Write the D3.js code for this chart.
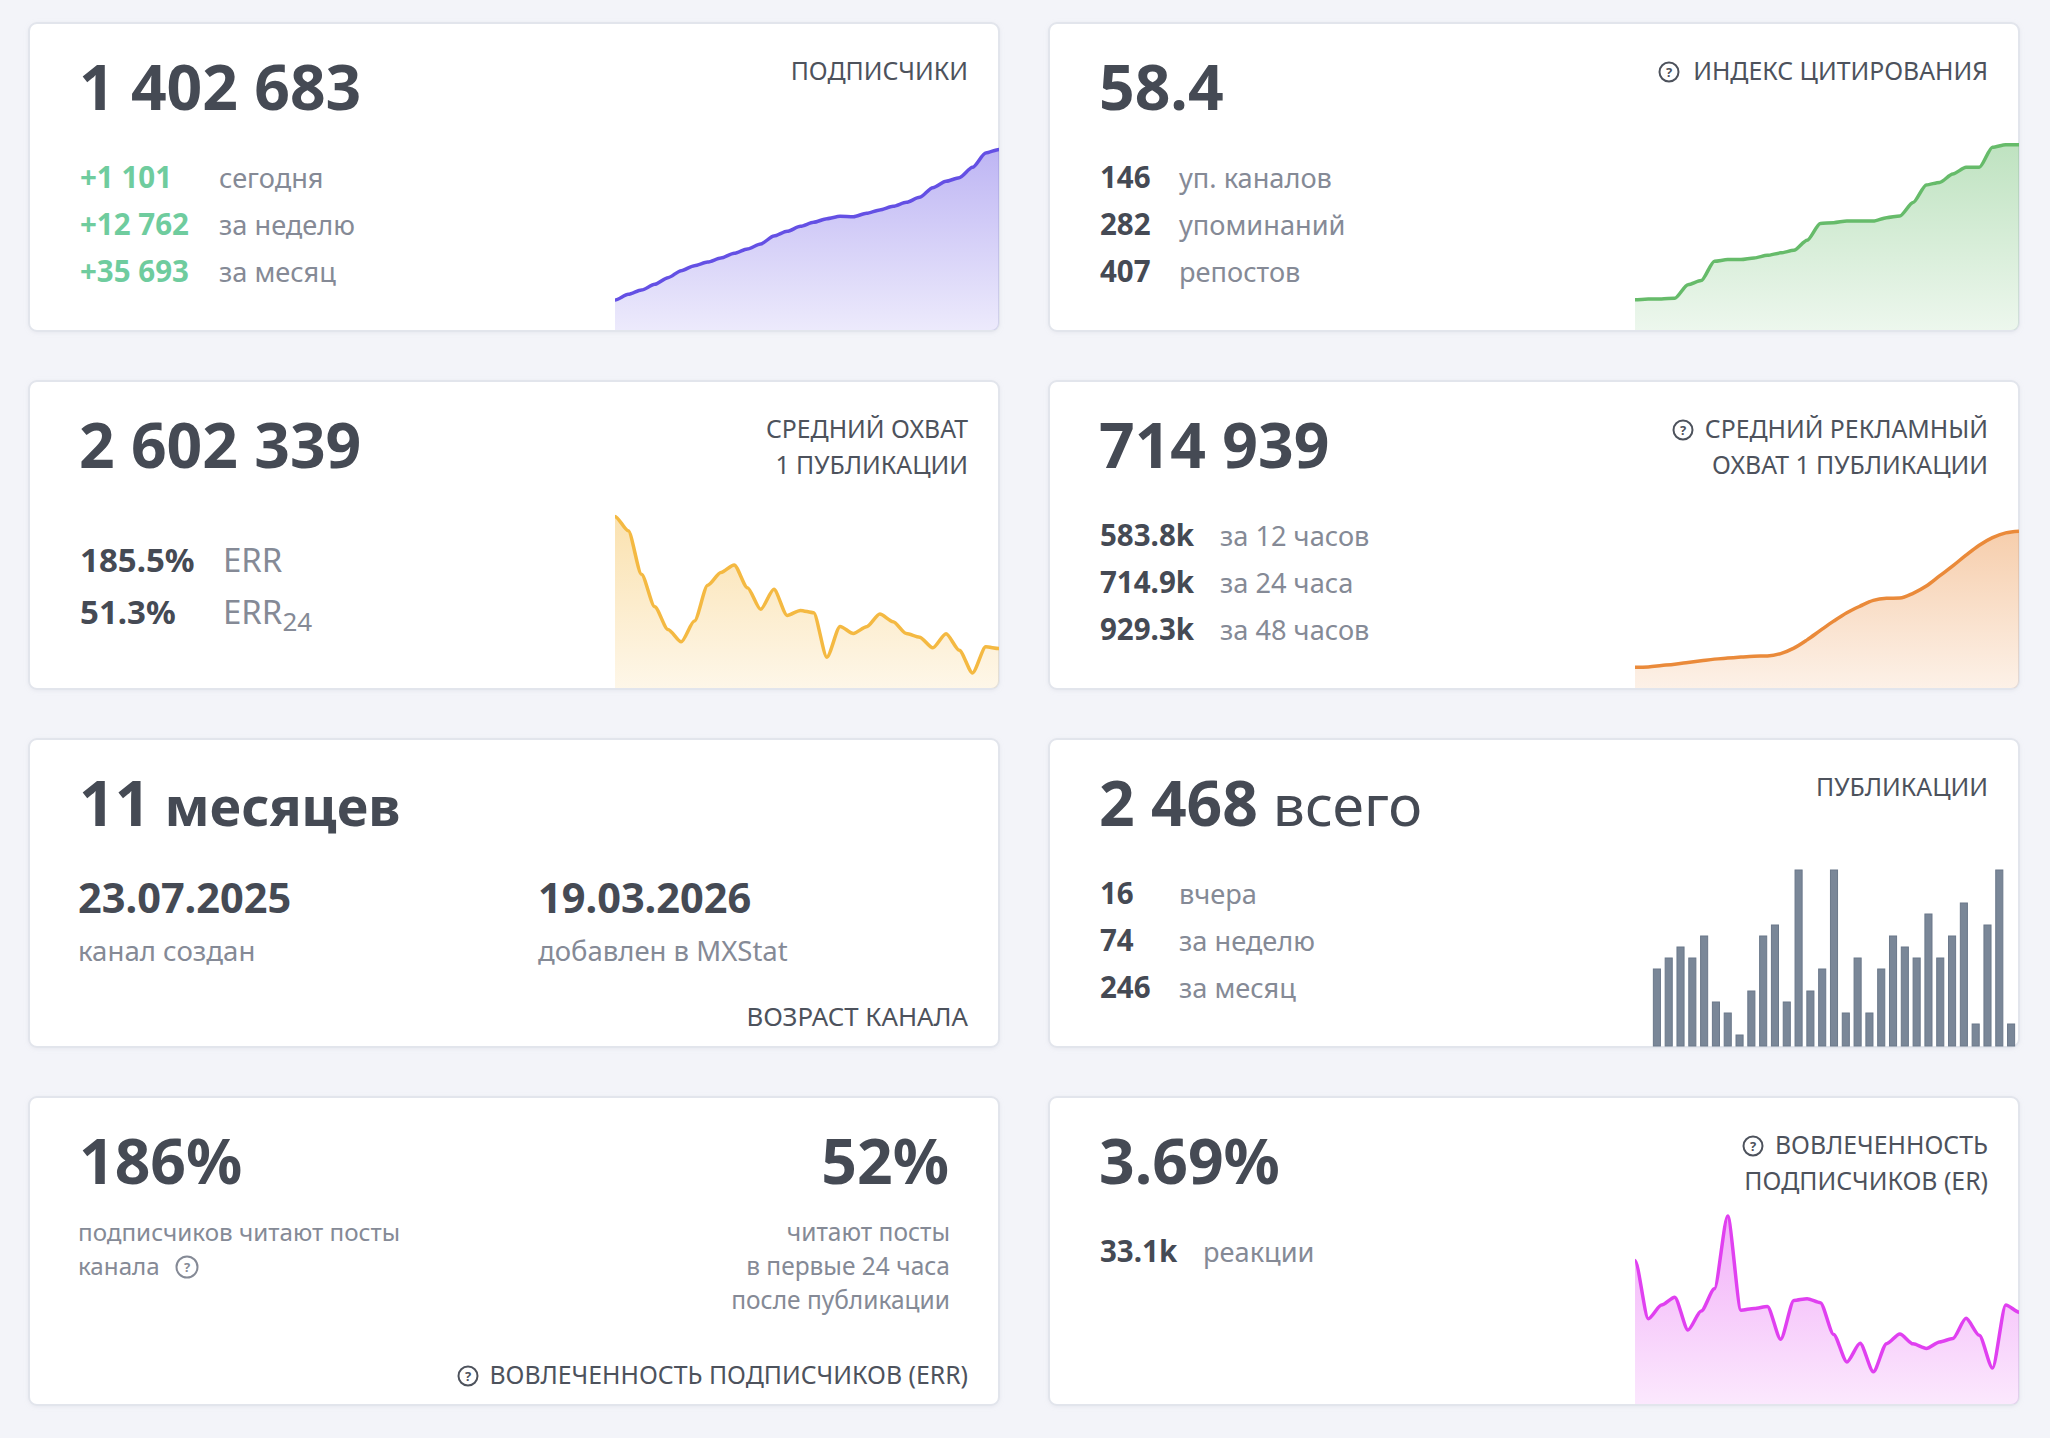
<!DOCTYPE html>
<html>
<head>
    <title></title>
    <meta charset="utf-8">
    <style>
        html, body { margin: 0; padding: 0; background: #f3f4f9; }
        svg { display: block; }
        text { font-family: "Noto Sans", sans-serif; }
    </style>
</head>
<body>
<script src="https://cdn.jsdelivr.net/npm/d3@7"></script>
<script>
    // subscribers per day
    var subscribers = [1366990, 1368333, 1369360, 1370703, 1372283, 1373942, 1375127, 1375996, 1376944, 1378050,
        1379077, 1380262, 1382158, 1383264, 1384449, 1385397, 1386266, 1386819, 1386740, 1387530,
        1388320, 1389189, 1390137, 1391322, 1393613, 1395114, 1395983, 1398432, 1401829, 1402683];
    // citation index per day
    var citation = [39.9, 40.0, 40.0, 40.1, 41.7, 42.2, 44.5, 44.7, 44.7, 44.9,
        45.2, 45.5, 45.8, 47.0, 49.0, 49.1, 49.3, 49.3, 49.3, 49.7,
        49.9, 51.5, 53.6, 53.9, 54.9, 55.7, 55.7, 58.1, 58.4, 58.4];
    // average reach, thousands
    var reach = [5679, 5203, 3764, 2690, 1937, 1528, 2214, 3399, 3819, 4074,
        3321, 2602, 3266, 2402, 2568, 2491, 1018, 2037, 1804, 2026,
        2447, 2192, 1804, 1683, 1328, 1793, 1251, 498, 1362, 1306];
    // ad reach, thousands
    var adReach = [123, 125, 133, 141, 151, 161, 171, 177, 183, 188,
        190, 204, 236, 285, 341, 396, 446, 485, 519, 531,
        533, 561, 604, 664, 723, 787, 846, 891, 919, 929];
    // engagement rate, percent
    var er = [6.52, 3.87, 4.49, 4.85, 3.36, 4.22, 5.23, 8.54, 4.26, 4.34,
        4.43, 2.94, 4.70, 4.78, 4.60, 3.16, 1.91, 2.76, 1.46, 2.74,
        3.18, 2.73, 2.52, 2.82, 2.97, 3.89, 3.12, 1.63, 4.50, 4.17];
    // posts per day
    var posts = [7, 8, 9, 8, 10, 4, 3, 1, 5, 10, 11, 4, 16, 5, 7, 16, 3, 8, 3, 7, 10, 9, 8, 12, 8, 10, 13, 2, 11, 16, 2];

    var cardW = 970, cardH = 308;
    var dark = '#454a54', gray = '#858a96', label = '#4d525c', plus = '#6fcc9e';

    var svg = d3.select('body').append('svg')
        .attr('width', 2050)
        .attr('height', 1438);
    var defs = svg.append('defs');

    defs.append('clipPath').attr('id', 'card-clip').append('rect')
        .attr('width', cardW).attr('height', cardH).attr('rx', 8);
    var blur = defs.append('filter').attr('id', 'card-shadow')
        .attr('x', '-2%').attr('y', '-3%').attr('width', '104%').attr('height', '106%');
    blur.append('feDropShadow').attr('dx', 0).attr('dy', 1).attr('stdDeviation', 2)
        .attr('flood-color', '#aab0c0').attr('flood-opacity', 0.18);

    // almost straight segments with short flat ends, the way the sparklines bend
    function softCurve(context) {
        var x0, y0, started = false;
        return {
            areaStart: function () { this._line = 0; },
            areaEnd: function () { this._line = NaN; },
            lineStart: function () { started = false; },
            lineEnd: function () { if (this._line) context.closePath(); this._line = 1 - this._line; },
            point: function (x, y) {
                x = +x; y = +y;
                if (!started) {
                    started = true;
                    if (this._line) context.lineTo(x, y); else context.moveTo(x, y);
                } else {
                    var k = (x - x0) * 0.25;
                    context.bezierCurveTo(x0 + k, y0, x - k, y, x, y);
                }
                x0 = x; y0 = y;
            }
        };
    }

    function card(col, row) {
        var g = svg.append('g')
            .attr('transform', 'translate(' + (29 + col * 1020) + ',' + (23 + row * 358) + ')');
        g.append('rect')
            .attr('width', cardW).attr('height', cardH).attr('rx', 8)
            .attr('fill', '#fff').attr('stroke', '#e2e5ec').attr('stroke-width', 2)
            .attr('filter', 'url(#card-shadow)');
        return g;
    }

    function txt(g, x, y, s, size, weight, color, anchor) {
        return g.append('text')
            .attr('x', x).attr('y', y)
            .attr('font-size', size).attr('font-weight', weight)
            .attr('fill', color).attr('text-anchor', anchor || 'start')
            .text(s);
    }

    function big(g, s) { return txt(g, 50, 86.5, s, 62.4, 700, dark); }

    // small circled question mark
    function hint(g, cx, cy, color, r) {
        r = r || 9.5;
        g.append('circle').attr('cx', cx).attr('cy', cy).attr('r', r)
            .attr('fill', 'none').attr('stroke', color).attr('stroke-width', 2);
        txt(g, cx, cy + 4.7, '?', 13, 700, color, 'middle');
    }

    function title(g, lines, y0, size) {
        lines.forEach(function (s, i) {
            txt(g, 939, (y0 || 57) + i * 36, s, size || 24.8, 400, label, 'end');
        });
    }

    function stats(g, rows, x0, x1, y0, color) {
        rows.forEach(function (r, i) {
            txt(g, x0, y0 + i * 47, r[0], 29.5, 700, color || dark);
            txt(g, x1, y0 + i * 47, r[1], 27.2, 400, gray);
        });
    }

    function spark(g, id, values, domain, color, curve) {
        var x = d3.scalePoint().domain(d3.range(values.length)).range([586, cardW]);
        var y = d3.scaleLinear().domain(domain).range([cardH - 1, 120]);
        var grad = defs.append('linearGradient').attr('id', id)
            .attr('x1', 0).attr('x2', 0).attr('y1', 0).attr('y2', 1);
        grad.append('stop').attr('offset', 0).attr('stop-color', color).attr('stop-opacity', 0.42);
        grad.append('stop').attr('offset', 1).attr('stop-color', color).attr('stop-opacity', 0.12);

        var area = d3.area().curve(curve || softCurve)
            .x(function (d, i) { return x(i); })
            .y0(y(domain[0]))
            .y1(function (d) { return y(d); });
        var line = d3.line().curve(curve || softCurve)
            .x(function (d, i) { return x(i); })
            .y(function (d) { return y(d); });

        var p = g.append('g').attr('clip-path', 'url(#card-clip)');
        p.append('path').datum(values).attr('d', area).attr('fill', 'url(#' + id + ')');
        p.append('path').datum(values).attr('d', line)
            .attr('fill', 'none').attr('stroke', color).attr('stroke-width', 3.5);
    }

    // row 1
    var c = card(0, 0);
    big(c, '1 402 683');
    title(c, ['ПОДПИСЧИКИ']);
    stats(c, [['+1 101', 'сегодня'], ['+12 762', 'за неделю'], ['+35 693', 'за месяц']], 51, 190, 165, plus);
    spark(c, 'g-subs', subscribers, [1359880, 1404200], '#6450e4');

    c = card(1, 0);
    big(c, '58.4');
    title(c, ['ИНДЕКС ЦИТИРОВАНИЯ']);
    hint(c, 620, 49, label);
    stats(c, [['146', 'уп. каналов'], ['282', 'упоминаний'], ['407', 'репостов']], 51, 130, 165);
    spark(c, 'g-cit', citation, [36.3, 58.6], '#66bb6a');

    // row 2
    c = card(0, 1);
    big(c, '2 602 339');
    title(c, ['СРЕДНИЙ ОХВАТ', '1 ПУБЛИКАЦИИ']);
    txt(c, 51, 190.5, '185.5%', 33, 700, dark);
    txt(c, 51, 242.5, '51.3%', 33, 700, dark);
    txt(c, 194, 190.5, 'ERR', 33, 400, gray);
    var err24 = txt(c, 194, 242.5, 'ERR', 33, 400, gray);
    err24.append('tspan').attr('dy', 7).attr('font-size', 26).text('24');
    spark(c, 'g-reach', reach, [0, 6188], '#f4b942');

    c = card(1, 1);
    big(c, '714 939');
    title(c, ['СРЕДНИЙ РЕКЛАМНЫЙ', 'ОХВАТ 1 ПУБЛИКАЦИИ']);
    hint(c, 634, 49, label);
    stats(c, [['583.8k', 'за 12 часов'], ['714.9k', 'за 24 часа'], ['929.3k', 'за 48 часов']], 51, 171, 165);
    spark(c, 'g-ad', adReach, [0, 1107.6], '#ea8a3a', d3.curveMonotoneX);

    // row 3
    c = card(0, 2);
    var age = big(c, '11');
    age.append('tspan').attr('font-size', 54).text(' месяцев');
    txt(c, 49, 174, '23.07.2025', 41.5, 700, dark);
    txt(c, 49, 222, 'канал создан', 27.6, 400, gray);
    txt(c, 509, 174, '19.03.2026', 41.5, 700, dark);
    txt(c, 509, 222, 'добавлен в MXStat', 27.5, 400, gray);
    title(c, ['ВОЗРАСТ КАНАЛА'], 287, 25.8);

    c = card(1, 2);
    var head = big(c, '2 468');
    head.append('tspan').attr('font-weight', 400).attr('font-size', 57).text(' всего');
    title(c, ['ПУБЛИКАЦИИ']);
    stats(c, [['16', 'вчера'], ['74', 'за неделю'], ['246', 'за месяц']], 51, 130, 165);
    var bx = d3.scaleBand().domain(d3.range(posts.length)).range([602, 968]).paddingInner(0.4).paddingOuter(0.2);
    var by = d3.scaleLinear().domain([0, d3.max(posts)]).range([cardH - 1, 131]);
    c.selectAll('rect.bar').data(posts).enter().append('rect')
        .attr('class', 'bar')
        .attr('x', function (d, i) { return bx(i); })
        .attr('y', function (d) { return by(d); })
        .attr('width', bx.bandwidth())
        .attr('height', function (d) { return by(0) - by(d); })
        .attr('fill', '#7a8798').attr('stroke', '#6b788a').attr('stroke-width', 1);

    // row 4
    c = card(0, 3);
    big(c, '186%');
    txt(c, 49, 144, 'подписчиков читают посты', 24.2, 400, gray);
    txt(c, 49, 178, 'канала', 24.2, 400, gray);
    hint(c, 158, 170, gray, 10.5);
    txt(c, 920, 86.5, '52%', 62.4, 700, dark, 'end');
    txt(c, 921, 144, 'читают посты', 24.5, 400, gray, 'end');
    txt(c, 921, 178, 'в первые 24 часа', 24.5, 400, gray, 'end');
    txt(c, 921, 212, 'после публикации', 24.5, 400, gray, 'end');
    title(c, ['ВОВЛЕЧЕННОСТЬ ПОДПИСЧИКОВ (ERR)'], 287);
    hint(c, 439, 279, label);

    c = card(1, 3);
    big(c, '3.69%');
    title(c, ['ВОВЛЕЧЕННОСТЬ', 'ПОДПИСЧИКОВ (ER)']);
    hint(c, 704, 49, label);
    stats(c, [['33.1k', 'реакции']], 51, 154, 165);
    spark(c, 'g-er', er, [0, 8.49], '#e040f0');
</script>
</body>
</html>
